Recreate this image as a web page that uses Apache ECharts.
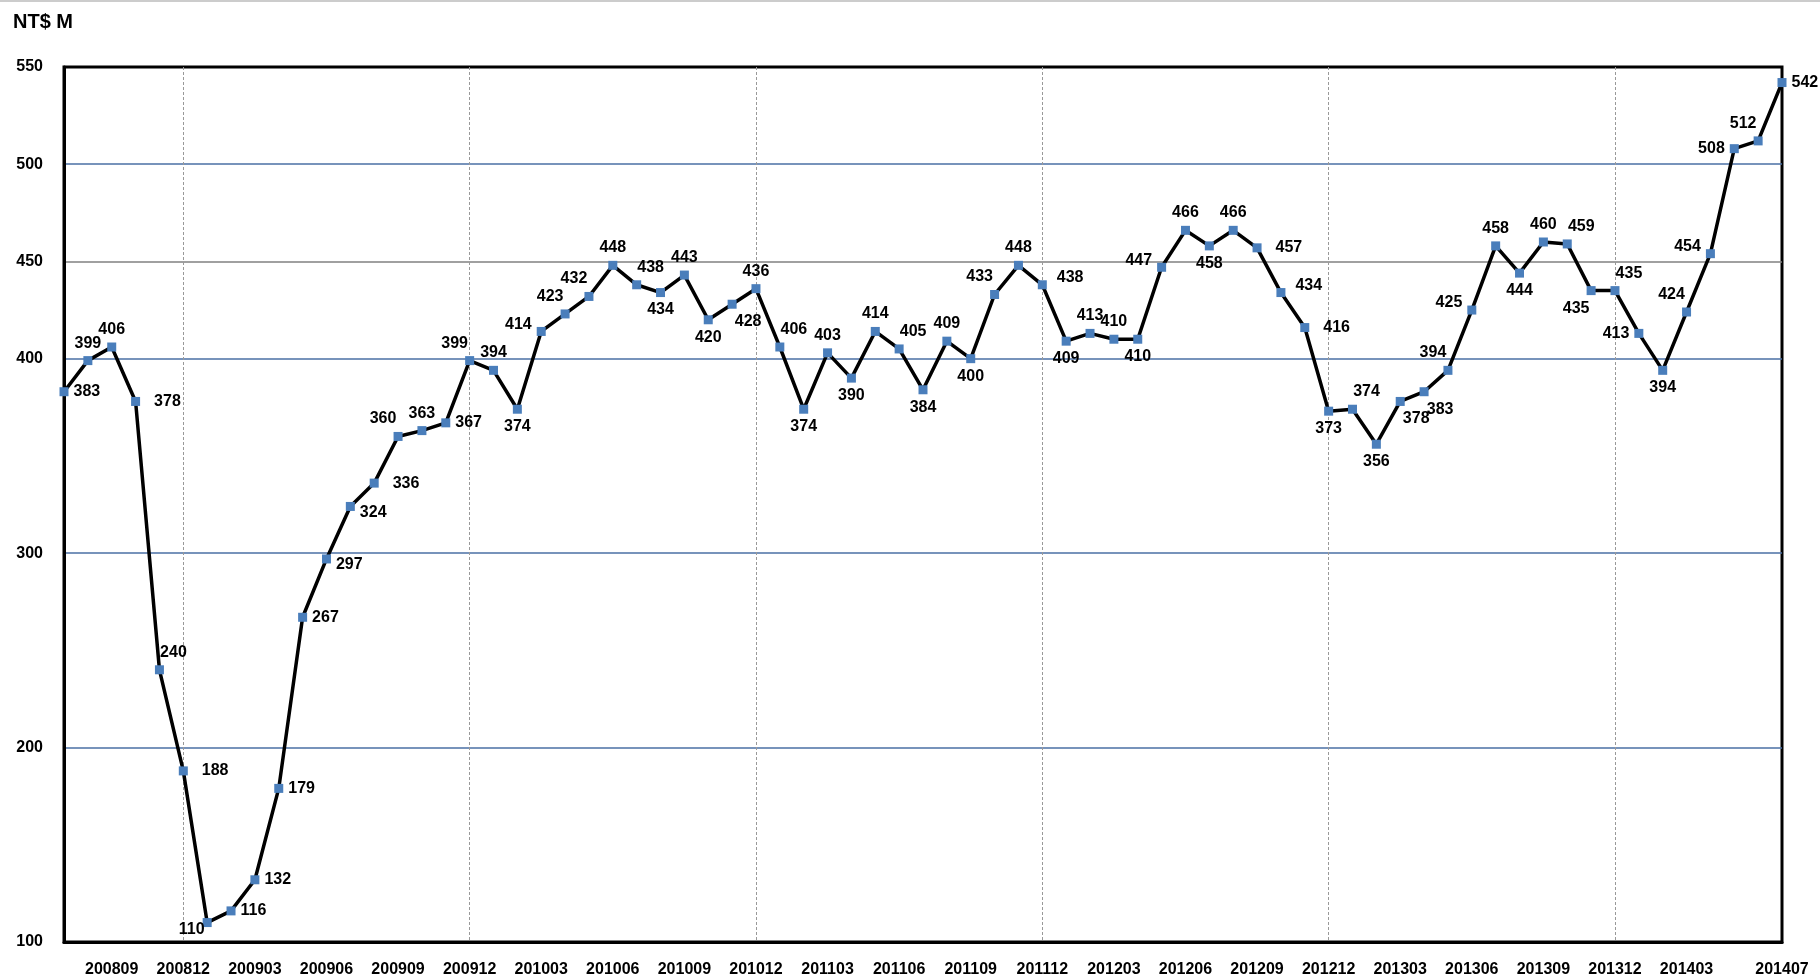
<!DOCTYPE html>
<html>
<head>
<meta charset="utf-8">
<script src="https://cdn.jsdelivr.net/npm/echarts@6/dist/echarts.min.js"></script>
<style>
	html, body { margin: 0; padding: 0; background: #fff; }
	#chart { width: 1820px; height: 980px; }
</style>
</head>
<body>
<div id="chart"></div>
<script>
// 月份 200807 - 201407
var months = [];
for (var y = 2008; y <= 2014; y++) {
	for (var m = 1; m <= 12; m++) {
		var k = y * 100 + m;
		if (k >= 200807 && k <= 201407) months.push(String(k));
	}
}

var values = [383, 399, 406, 378, 240, 188, 110, 116, 132, 179, 267, 297,
	324, 336, 360, 363, 367, 399, 394, 374, 414, 423, 432, 448,
	438, 434, 443, 420, 428, 436, 406, 374, 403, 390, 414, 405,
	384, 409, 400, 433, 448, 438, 409, 413, 410, 410, 447, 466,
	458, 466, 457, 434, 416, 373, 374, 356, 378, 383, 394, 425,
	458, 444, 460, 459, 435, 435, 413, 394, 424, 454, 508, 512, 542];

var yTicks = [100, 200, 300, 400, 450, 500, 550];

// where each value label sits relative to its point
var labelPos = ['R', 'T', 'T', 'R2', 'TR', 'R2', 'LB', 'R', 'R', 'R', 'R', 'RB',
	'RB', 'R2', 'TL', 'T', 'R', 'TL', 'T', 'B', 'LT', 'TL', 'TL', 'T',
	'TR', 'B', 'T', 'B', 'BR', 'T', 'TR', 'B', 'T', 'B', 'T', 'TR',
	'B', 'T', 'B', 'TL', 'T', 'RT', 'B', 'T', 'T', 'B', 'LT', 'T',
	'B', 'T', 'R2', 'RT', 'R2', 'B', 'TR', 'B', 'BR', 'BR', 'TL', 'LT',
	'T', 'B', 'T', 'TR', 'BL', 'TR', 'L', 'B', 'TL', 'LT', 'L', 'TL', 'R'];

var font = "'Liberation Sans', Arial, sans-serif";

function labelFor(code) {
	var l = { show: true, color: '#000', fontSize: 16, fontWeight: 'bold', fontFamily: font, distance: 5 };
	switch (code) {
		case 'T': l.position = 'top'; break;
		case 'B': l.position = 'bottom'; break;
		case 'L': l.position = 'left'; break;
		case 'R': l.position = 'right'; break;
		case 'R2': l.position = 'right'; l.distance = 14; break;
		case 'TL': l.position = 'top'; l.offset = [-15, 0]; break;
		case 'TR': l.position = 'top'; l.offset = [14, 0]; break;
		case 'BL': l.position = 'bottom'; l.offset = [-15, 0]; break;
		case 'BR': l.position = 'bottom'; l.offset = [16, 0]; break;
		case 'RB': l.position = 'right'; l.offset = [0, 6]; break;
		case 'RT': l.position = 'right'; l.distance = 10; l.offset = [0, -7]; break;
		case 'LT': l.position = 'left'; l.offset = [0, -7]; break;
		case 'LB': l.position = 'left'; l.distance = 0; l.offset = [2, 7]; break;
	}
	return l;
}

var seriesData = [];
for (var i = 0; i < values.length; i++) {
	seriesData.push({ value: values[i], label: labelFor(labelPos[i]) });
}

var blue = '#4a6fa5';
var myChart = echarts.init(document.getElementById('chart'));
myChart.setOption({
	backgroundColor: '#fff',
	animation: false,
	grid: {
		left: 64,
		right: 38,
		top: 67,
		bottom: 38,
		show: true,
		borderColor: '#000',
		borderWidth: 3
	},
	graphic: [{
		type: 'line',
		shape: { x1: 0, y1: 1, x2: 1820, y2: 1 },
		style: { stroke: '#999', lineWidth: 1 }
	}, {
		type: 'text',
		left: 13,
		top: 12,
		style: { text: 'NT$ M', fill: '#000', font: 'bold 20px ' + font }
	}],
	xAxis: {
		type: 'category',
		data: months,
		boundaryGap: false,
		axisLine: { lineStyle: { color: '#000', width: 3 } },
		axisTick: { show: false },
		axisLabel: {
			color: '#000',
			fontSize: 16,
			fontWeight: 'bold',
			fontFamily: font,
			margin: 20,
			interval: function (index) {
				return (index >= 2 && (index - 2) % 3 == 0 && index < months.length - 3) || index == months.length - 1;
			}
		},
		splitLine: {
			show: true,
			interval: function (index, value) {
				return value.slice(4) == '12';
			},
			lineStyle: { color: '#999', width: 1, type: [3, 2] }
		}
	},
	yAxis: {
		type: 'value',
		min: 100,
		max: 550,
		interval: 50,
		axisLine: { show: true, lineStyle: { color: '#000', width: 3 } },
		axisTick: { show: false },
		axisLabel: {
			color: '#000',
			fontSize: 16,
			fontWeight: 'bold',
			fontFamily: font,
			margin: 21,
			formatter: function (v) {
				return yTicks.indexOf(v) >= 0 ? v : '';
			}
		},
		splitLine: {
			show: true,
			lineStyle: {
				width: 1.5,
				//100,150,200,250,300,350,400,450,500,550
				color: ['rgba(0,0,0,0)', 'rgba(0,0,0,0)', blue, 'rgba(0,0,0,0)', blue, 'rgba(0,0,0,0)', blue, '#808080', blue, 'rgba(0,0,0,0)']
			}
		}
	},
	series: [{
		type: 'line',
		data: seriesData,
		symbol: 'rect',
		symbolSize: 9,
		showAllSymbol: true,
		lineStyle: { color: '#000', width: 3.5 },
		itemStyle: { color: '#4a7ebb' },
		z: 5
	}]
});
</script>
</body>
</html>
